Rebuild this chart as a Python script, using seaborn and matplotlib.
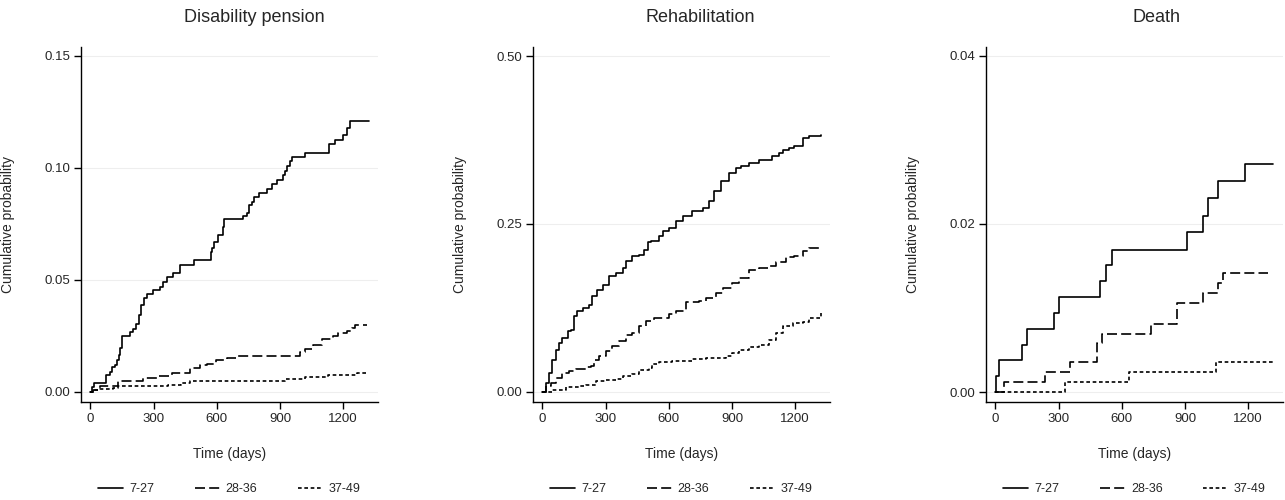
import numpy as np
import pandas as pd
import matplotlib
matplotlib.use("Agg")
import matplotlib.pyplot as plt
from matplotlib.lines import Line2D
import seaborn as sns


# ── Data ──────────────────────────────────────────────────────────────────────

GROUPS = ["7-27", "28-36", "37-49"]
PANELS = ["Disability pension", "Rehabilitation", "Death"]

# Disability pension
dp_young_t = [0, 8, 16, 76, 92, 104, 116, 127, 136, 142, 149, 187, 203, 218, 231, 242,
              253, 266, 298, 329, 345, 361, 393, 424, 492, 571, 579, 586, 606, 627, 635,
              725, 744, 754, 765, 776, 801, 836, 860, 886, 915, 923, 934, 947, 959, 1018,
              1133, 1160, 1200, 1216, 1232, 1323]
dp_young_p = [0, 0.002, 0.004, 0.0074, 0.009, 0.011, 0.012, 0.0144, 0.0167, 0.0196, 0.0249,
              0.0266, 0.028, 0.0305, 0.0345, 0.039, 0.042, 0.0438, 0.0457, 0.047, 0.049,
              0.0512, 0.053, 0.0568, 0.0588, 0.0625, 0.0643, 0.0668, 0.070, 0.0735, 0.077,
              0.0787, 0.080, 0.0836, 0.085, 0.087, 0.0888, 0.0906, 0.0929, 0.0948, 0.097,
              0.0988, 0.1007, 0.103, 0.1049, 0.1067, 0.1109, 0.1126, 0.1149, 0.1179,
              0.1211, 0.1211]
dp_mid_t = [0, 13, 44, 131, 250, 321, 385, 472, 519, 551, 598, 646, 693, 994, 1018, 1057,
            1097, 1152, 1176, 1216, 1240, 1255, 1311]
dp_mid_p = [0, 0.001, 0.0025, 0.0048, 0.0063, 0.007, 0.0085, 0.0107, 0.0118, 0.0126,
            0.0141, 0.0152, 0.0162, 0.018, 0.0192, 0.0211, 0.0237, 0.0251, 0.0263, 0.0274,
            0.0286, 0.030, 0.030]
dp_old_t = [0, 13, 44, 108, 131, 369, 432, 472, 923, 1018, 1129, 1263, 1311]
dp_old_p = [0, 0.0007, 0.0013, 0.0018, 0.0025, 0.0033, 0.004, 0.0048, 0.0058, 0.0067,
            0.0077, 0.0083, 0.0083]

# Rehabilitation
rh_young_t = [0, 16, 32, 47, 63, 79, 95, 119, 135, 150, 166, 190, 222, 237, 261, 285, 317,
              348, 380, 396, 427, 459, 483, 499, 514, 554, 570, 602, 633, 665, 712, 760,
              792, 815, 847, 887, 918, 942, 982, 1029, 1092, 1124, 1140, 1171, 1195, 1235,
              1266, 1322]
rh_young_p = [0, 0.0134, 0.0283, 0.0481, 0.063, 0.0729, 0.0804, 0.0903, 0.0928, 0.1126,
              0.12, 0.125, 0.13, 0.1424, 0.1523, 0.1597, 0.1722, 0.1771, 0.1845, 0.1944,
              0.2019, 0.2044, 0.2118, 0.2227, 0.2252, 0.2316, 0.2391, 0.244, 0.254, 0.2614,
              0.2688, 0.2738, 0.2837, 0.2986, 0.3135, 0.3259, 0.3333, 0.3358, 0.3408,
              0.3457, 0.3507, 0.3557, 0.3606, 0.3631, 0.3656, 0.378, 0.3805, 0.3829]
rh_mid_t = [0, 16, 40, 63, 95, 127, 158, 206, 230, 245, 269, 301, 332, 364, 396, 427, 459,
            491, 530, 602, 633, 681, 744, 776, 823, 855, 902, 934, 982, 1029, 1076, 1108,
            1156, 1195, 1235, 1266, 1322]
rh_mid_p = [0, 0.0084, 0.0134, 0.0208, 0.0283, 0.0317, 0.0342, 0.0367, 0.0382, 0.0481,
            0.0531, 0.0605, 0.069, 0.0754, 0.0853, 0.0878, 0.0977, 0.1052, 0.1101, 0.1166,
            0.12, 0.1334, 0.1349, 0.1399, 0.1473, 0.1548, 0.1622, 0.1696, 0.182, 0.1845,
            0.188, 0.193, 0.2004, 0.2029, 0.2093, 0.2143, 0.2168]
rh_old_t = [0, 47, 111, 174, 206, 253, 301, 348, 380, 427, 459, 507, 522, 554, 617, 712,
            776, 871, 902, 934, 982, 1029, 1076, 1108, 1140, 1187, 1235, 1266, 1322]
rh_old_p = [0, 0.0035, 0.0069, 0.0084, 0.0109, 0.0159, 0.0184, 0.0193, 0.0243, 0.0268,
            0.0332, 0.0357, 0.0422, 0.0441, 0.0456, 0.0491, 0.0506, 0.0531, 0.058, 0.062,
            0.067, 0.0704, 0.0769, 0.0878, 0.0987, 0.1027, 0.1037, 0.1101, 0.1176]

# Death
de_young_t = [0, 3, 16, 126, 149, 280, 302, 495, 527, 554, 907, 983, 1010, 1058, 1184, 1316]
de_young_p = [0, 0.00187, 0.0038, 0.0056, 0.0075, 0.0094, 0.0113, 0.0132, 0.0151, 0.0169,
              0.019, 0.021, 0.0231, 0.0251, 0.0271, 0.0271]
de_mid_t = [0, 39, 233, 354, 480, 508, 739, 862, 983, 1058, 1082, 1294]
de_mid_p = [0, 0.00115, 0.00234, 0.00353, 0.0058, 0.0069, 0.0081, 0.0106, 0.0118, 0.013,
            0.0142, 0.0142]
de_old_t = [0, 330, 634, 1046, 1321]
de_old_p = [0, 0.00115, 0.00238, 0.00357, 0.00357]

SERIES = [
    [(dp_young_t, dp_young_p), (dp_mid_t, dp_mid_p), (dp_old_t, dp_old_p)],
    [(rh_young_t, rh_young_p), (rh_mid_t, rh_mid_p), (rh_old_t, rh_old_p)],
    [(de_young_t, de_young_p), (de_mid_t, de_mid_p), (de_old_t, de_old_p)],
]

Y_TICKS = [[0, 0.05, 0.10, 0.15], [0, 0.25, 0.50], [0, 0.02, 0.04]]
Y_LIMS = [(-0.0045, 0.154), (-0.0149, 0.5134), (-0.00119, 0.04107)]
X_TICKS = [0, 300, 600, 900, 1200]


# ── Style ─────────────────────────────────────────────────────────────────────

sns.set_theme(style="white")
plt.rcParams["font.family"] = ["Liberation Sans", "DejaVu Sans"]

LINESTYLES = ["-", (0, (6, 2.5)), (0, (2.2, 1.6))]
LW = 1.2

fig = plt.figure(figsize=(12.85, 5), dpi=100)

lefts = [81, 533, 986]
title_x = [254, 700, 1157]
W, H = 1285, 500

for i, name in enumerate(PANELS):
    ax = fig.add_axes([lefts[i] / W, 1 - 402 / H, 297 / W, 355 / H])

    for (t, p), ls in zip(SERIES[i], LINESTYLES):
        df = pd.DataFrame({"t": t, "p": p})
        sns.lineplot(data=df, x="t", y="p", ax=ax, color="black", lw=LW,
                     linestyle=ls, drawstyle="steps-post", estimator=None,
                     sort=False, legend=False)

    ax.set_xlim(-45, 1365)
    ax.set_ylim(*Y_LIMS[i])
    ax.set_xticks(X_TICKS)
    ax.set_yticks(Y_TICKS[i])
    ax.set_yticklabels([f"{v:.2f}" for v in Y_TICKS[i]])

    for v in Y_TICKS[i]:
        ax.axhline(v, color="#eeeeee", lw=0.8, zorder=0)

    for s in ["top", "right"]:
        ax.spines[s].set_visible(False)
    for s in ["left", "bottom"]:
        ax.spines[s].set_color("black")
        ax.spines[s].set_linewidth(1.0)

    ax.tick_params(axis="both", which="major", direction="out", length=5,
                   width=1.0, color="black", labelsize=9.5, pad=3,
                   left=True, bottom=True)

    ax.set_xlabel("Time (days)", fontsize=10)
    ax.set_ylabel("Cumulative probability", fontsize=10)
    ax.xaxis.set_label_coords(0.5, -0.127)
    ax.yaxis.set_label_coords(-0.222, 0.5)

    handles = [Line2D([], [], color="black", lw=LW, linestyle=ls) for ls in LINESTYLES]
    ax.legend(handles, GROUPS, loc="center", bbox_to_anchor=(0.5, -0.245),
              ncol=3, frameon=False, fontsize=9, handlelength=2.0,
              handletextpad=0.5, columnspacing=3.2)

    fig.text(title_x[i] / W, 1 - 17 / H, name, ha="center", va="center",
             fontsize=13)

fig.savefig("out.png", dpi=100, facecolor="white")
